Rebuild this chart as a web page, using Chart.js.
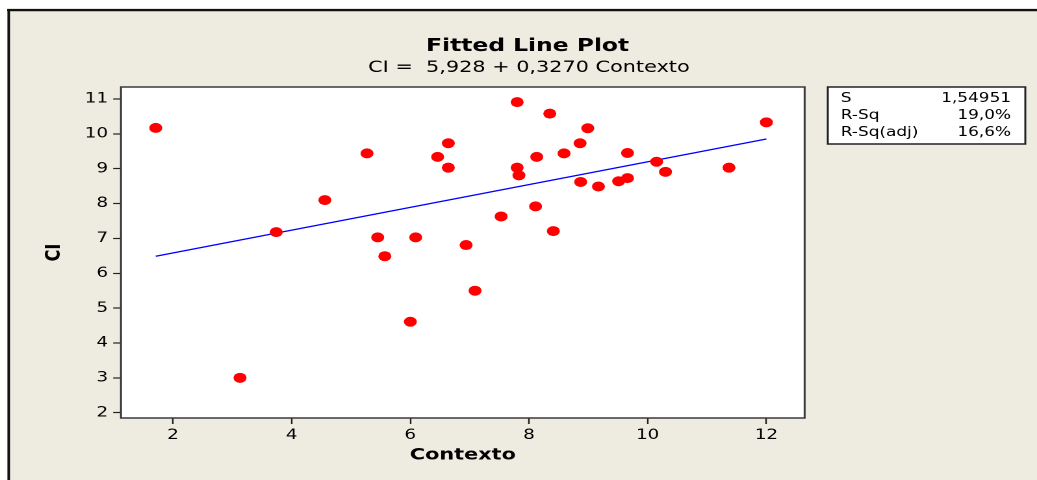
<!DOCTYPE html>
<html>
<head>
<meta charset="utf-8">
<title>Fitted Line Plot</title>
<script src="https://cdn.jsdelivr.net/npm/chart.js@4.4.0/dist/chart.umd.min.js"></script>
<style>
  html, body { margin: 0; padding: 0; background: #fff; overflow: hidden; }
  /* the plot is laid out narrow and stretched sideways, like the exported graph */
  #wrap { position: absolute; left: 0; top: 0; width: 798px; height: 480px;
          transform: scaleX(1.2995); transform-origin: 0 0; }
</style>
</head>
<body>
<div id="wrap"><canvas id="fitPlot"></canvas></div>
<script>
const contexto = [1.71, 3.13, 3.74, 4.56, 5.27, 5.45, 5.57, 6.00, 6.09, 6.46, 6.64, 6.64,
                  6.94, 7.09, 7.53, 7.80, 7.80, 7.83, 8.11, 8.13, 8.35, 8.41, 8.59, 8.86,
                  8.87, 8.99, 9.17, 9.51, 9.66, 9.66, 10.15, 10.30, 11.37, 12.00];
const ci = [10.17, 3.00, 7.18, 8.10, 9.44, 7.03, 6.49, 4.61, 7.03, 9.34, 9.73, 9.03,
            6.81, 5.50, 7.63, 10.91, 9.03, 8.81, 7.92, 9.34, 10.58, 7.21, 9.44, 9.73,
            8.62, 10.16, 8.49, 8.64, 9.45, 8.73, 9.20, 8.91, 9.03, 10.33];

// regression from the subtitle: CI = 5,928 + 0,3270 Contexto
const fitIntercept = 5.928;
const fitSlope = 0.3270;

const statLabels = ['S', 'R-Sq', 'R-Sq(adj)'];
const statValues = ['1,54951', '19,0%', '16,6%'];

const titleText = 'Fitted Line Plot';
const subtitleText = 'CI =  5,928 + 0,3270 Contexto';

const FONT = "'DejaVu Sans', Verdana, sans-serif";
const BEIGE = '#eeebe1';

const points = contexto.map((x, i) => ({ x: x, y: ci[i] }));
const xLo = Math.min(...contexto);
const xHi = Math.max(...contexto);
const fitLine = [xLo, xHi].map(x => ({ x: x, y: fitIntercept + fitSlope * x }));

const framePlugin = {
  id: 'frame',
  beforeDraw(chart) {
    const { ctx, width, height, chartArea: a } = chart;
    ctx.save();
    ctx.fillStyle = '#ffffff';
    ctx.fillRect(0, 0, width, height);
    ctx.fillStyle = BEIGE;
    ctx.fillRect(6, 9, width - 6, height - 9);
    ctx.strokeStyle = '#111';
    ctx.lineWidth = 2.4;
    ctx.beginPath();
    ctx.moveTo(5.6, 10.1);
    ctx.lineTo(width, 10.1);
    ctx.stroke();
    ctx.lineWidth = 2;
    ctx.beginPath();
    ctx.moveTo(6.7, 9);
    ctx.lineTo(6.7, height);
    ctx.stroke();
    ctx.fillStyle = '#ffffff';
    ctx.fillRect(a.left, a.top, a.right - a.left, a.bottom - a.top);
    ctx.restore();
  },
  afterDraw(chart) {
    const { ctx, chartArea: a } = chart;
    ctx.save();
    // plot frame
    ctx.strokeStyle = '#3a3a3a';
    ctx.lineWidth = 1.5;
    ctx.strokeRect(a.left, a.top, a.right - a.left, a.bottom - a.top);

    // titles
    ctx.fillStyle = '#000';
    ctx.textAlign = 'center';
    ctx.textBaseline = 'alphabetic';
    ctx.font = 'bold 18px ' + FONT;
    ctx.fillText(titleText, 406, 51);
    ctx.font = '16px ' + FONT;
    ctx.fillText(subtitleText, 407, 72);

    // summary box
    const bx = 637, by = 87, bw = 152, bh = 57;
    ctx.fillStyle = '#fff';
    ctx.fillRect(bx, by, bw, bh);
    ctx.strokeStyle = '#222';
    ctx.lineWidth = 1.5;
    ctx.strokeRect(bx, by, bw, bh);
    ctx.fillStyle = '#000';
    ctx.font = '13px ' + FONT;
    ctx.textBaseline = 'middle';
    statLabels.forEach((label, i) => {
      const y = by + 11.5 + i * 17;
      ctx.textAlign = 'left';
      ctx.fillText(label, bx + 10, y);
      ctx.textAlign = 'right';
      ctx.fillText(statValues[i], bx + bw - 11, y);
    });
    ctx.restore();
  }
};

Chart.defaults.font.family = FONT;
Chart.defaults.color = '#000';

new Chart(document.getElementById('fitPlot'), {
  type: 'scatter',
  data: {
    datasets: [
      {
        type: 'scatter',
        data: points,
        backgroundColor: '#ff0000',
        borderColor: '#ff0000',
        borderWidth: 0,
        pointRadius: 5,
        order: 0
      },
      {
        type: 'line',
        data: fitLine,
        borderColor: '#0000ff',
        borderWidth: 1.3,
        pointRadius: 0,
        fill: false,
        order: 1
      }
    ]
  },
  options: {
    responsive: true,
    maintainAspectRatio: false,
    animation: false,
    devicePixelRatio: 2,
    layout: { padding: { top: 87, right: 178.8, bottom: 0, left: 0 } },
    plugins: {
      legend: { display: false },
      tooltip: { enabled: false }
    },
    scales: {
      x: {
        type: 'linear',
        min: 1.124,
        max: 12.645,
        afterFit(scale) { scale.height = 62; },
        border: { display: false },
        grid: { drawOnChartArea: false, drawTicks: true, tickLength: 6, tickColor: '#222', tickWidth: 1.2 },
        ticks: { stepSize: 2, includeBounds: false, padding: 3, font: { size: 14 }, color: '#000' },
        title: { display: true, text: 'Contexto', font: { size: 16, weight: 'bold' }, color: '#000',
                 padding: { top: 0, bottom: 15 } }
      },
      y: {
        type: 'linear',
        min: 1.848,
        max: 11.344,
        afterFit(scale) { scale.width = 93.1; },
        border: { display: false },
        grid: { drawOnChartArea: false, drawTicks: true, tickLength: 6, tickColor: '#222', tickWidth: 1.2 },
        ticks: { stepSize: 1, includeBounds: false, padding: 4, font: { size: 14 }, color: '#000' },
        title: { display: true, text: 'CI', font: { size: 16, weight: 'bold' }, color: '#000',
                 padding: { top: 32, bottom: 0 } }
      }
    }
  },
  plugins: [framePlugin]
});
</script>
</body>
</html>
